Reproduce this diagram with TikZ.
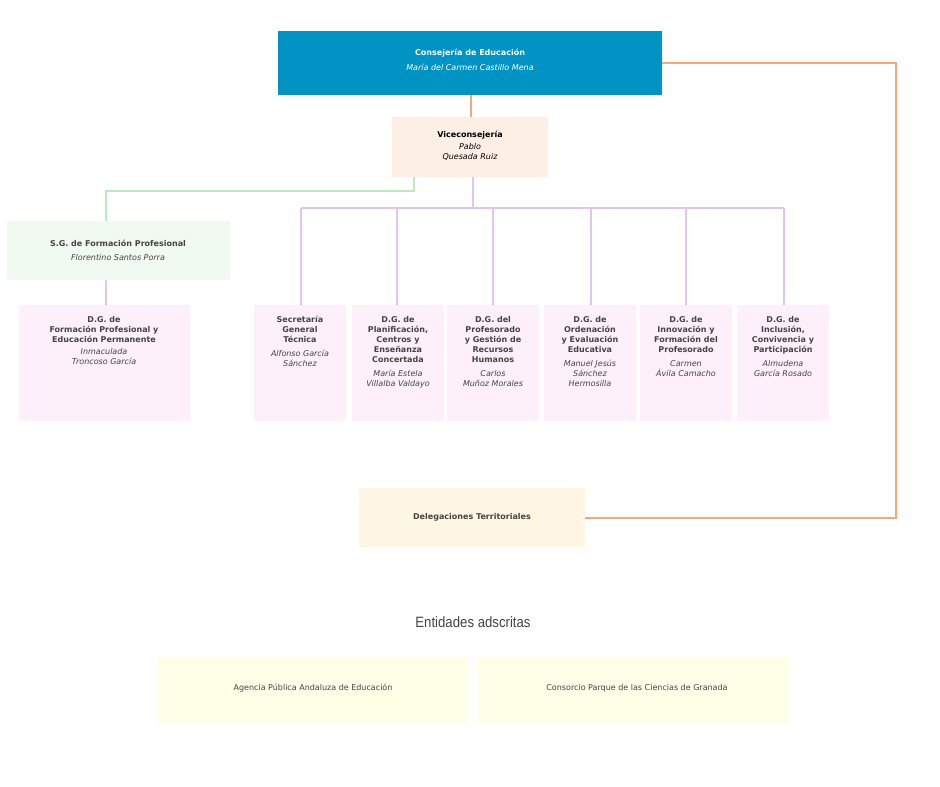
\documentclass[tikz,border=0pt]{standalone}
\usepackage{fontspec}
\setmainfont{DejaVu Sans}
\newfontfamily\narrowf{Liberation Sans}
\definecolor{blu}{RGB}{0,147,196}
\definecolor{peach}{RGB}{253,238,230}
\definecolor{lgreen}{RGB}{241,250,241}
\definecolor{lpink}{RGB}{253,240,251}
\definecolor{lorange}{RGB}{255,246,227}
\definecolor{lyellow}{RGB}{253,255,230}
\definecolor{lorg}{RGB}{244,168,122}
\definecolor{lgrn}{RGB}{190,232,190}
\definecolor{lpnk}{RGB}{226,196,236}
\definecolor{txt}{RGB}{68,68,68}
\begin{document}
\begin{tikzpicture}[x=1pt,y=-1pt,
 box/.style={draw=none,inner sep=0pt,text=txt,align=center,font=\fontsize{8}{10}\selectfont},
 t/.style={font=\fontsize{8}{10}\selectfont\bfseries},
 n/.style={font=\fontsize{8}{10}\selectfont\itshape},
 ol/.style={draw=lorg,line width=1.3pt},
 gl/.style={draw=lgrn,line width=1.3pt},
 pl/.style={draw=lpnk,line width=1.3pt}]
\useasboundingbox[fill=white] (0,0) rectangle (940,787);
\def\bx#1#2#3#4#5#6{\fill[#6] (#2,#3) rectangle (#4,#5); \coordinate (#1) at ({(#2+#4)/2},{(#3+#5)/2});}
% lines
\draw[ol] (471,95) -- (471,117);
\draw[ol] (662,63) -- (896,63) -- (896,518) -- (585,518);
\draw[gl] (414,177) -- (414,191) -- (106,191) -- (106,221);
\draw[pl] (473,177) -- (473,208);
\draw[pl] (301,208) -- (784,208);
\foreach \x in {301,397,493,591,686,784} \draw[pl] (\x,208) -- (\x,305);
\draw[pl] (106,280) -- (106,305);
% boxes
\fill[blu] (278,31) rectangle (662,95);
\node[box,text=white] (cons) at (470,60) {{\bfseries Consejería de Educación}\\[5pt]{\itshape María del Carmen Castillo Mena}};
\fill[peach] (392,117) rectangle (548,177);
\node[box,text=black] (vice) at (470,146) {{\bfseries Viceconsejería}\\[2pt]{\itshape Pablo}\\{\itshape Quesada Ruiz}};
\fill[lgreen] (7,221) rectangle (230,280);
\node[box] (sg) at (118,250) {{\bfseries S.G. de Formación Profesional}\\[4pt]{\itshape Florentino Santos Porra}};
\fill[lpink] (19,305) rectangle (190,421);
\node[box,anchor=north] (dgfp) at (104,316) {{\bfseries D.G. de}\\{\bfseries Formación Profesional y}\\{\bfseries Educación Permanente}\\[2pt]{\itshape Inmaculada}\\{\itshape Troncoso García}};
\foreach \a/\b in {254/346,352/444,447/539,544/636,640/732,737/829} \fill[lpink] (\a,305) rectangle (\b,421);
\node[box,anchor=north] (d1) at (300,316) {{\bfseries Secretaría}\\{\bfseries General}\\{\bfseries Técnica}\\[4pt]{\itshape Alfonso García}\\{\itshape Sánchez}};
\node[box,anchor=north] (d2) at (398,316) {{\bfseries D.G. de}\\{\bfseries Planificación,}\\{\bfseries Centros y}\\{\bfseries Enseñanza}\\{\bfseries Concertada}\\[4pt]{\itshape María Estela}\\{\itshape Villalba Valdayo}};
\node[box,anchor=north] (d3) at (493,316) {{\bfseries D.G. del}\\{\bfseries Profesorado}\\{\bfseries y Gestión de}\\{\bfseries Recursos}\\{\bfseries Humanos}\\[4pt]{\itshape Carlos}\\{\itshape Muñoz Morales}};
\node[box,anchor=north] (d4) at (590,316) {{\bfseries D.G. de}\\{\bfseries Ordenación}\\{\bfseries y Evaluación}\\{\bfseries Educativa}\\[4pt]{\itshape Manuel Jesús}\\{\itshape Sánchez}\\{\itshape Hermosilla}};
\node[box,anchor=north] (d5) at (686,316) {{\bfseries D.G. de}\\{\bfseries Innovación y}\\{\bfseries Formación del}\\{\bfseries Profesorado}\\[4pt]{\itshape Carmen}\\{\itshape Ávila Camacho}};
\node[box,anchor=north] (d6) at (783,316) {{\bfseries D.G. de}\\{\bfseries Inclusión,}\\{\bfseries Convivencia y}\\{\bfseries Participación}\\[4pt]{\itshape Almudena}\\{\itshape García Rosado}};
\fill[lorange] (359,488) rectangle (585,547);
\node[box,font=\fontsize{8}{10}\selectfont\bfseries] (del) at (472,517) {Delegaciones Territoriales};
\node[text=txt,font=\narrowf\fontsize{15}{18}\selectfont,xscale=0.88] (ent) at (473,622) {Entidades adscritas};
\fill[lyellow] (157,657) rectangle (468,723);
\fill[lyellow] (478,657) rectangle (789,723);
\node[box] (ag) at (313,688) {Agencia Pública Andaluza de Educación};
\node[box] (co) at (637,688) {Consorcio Parque de las Ciencias de Granada};
\end{tikzpicture}
\end{document}
